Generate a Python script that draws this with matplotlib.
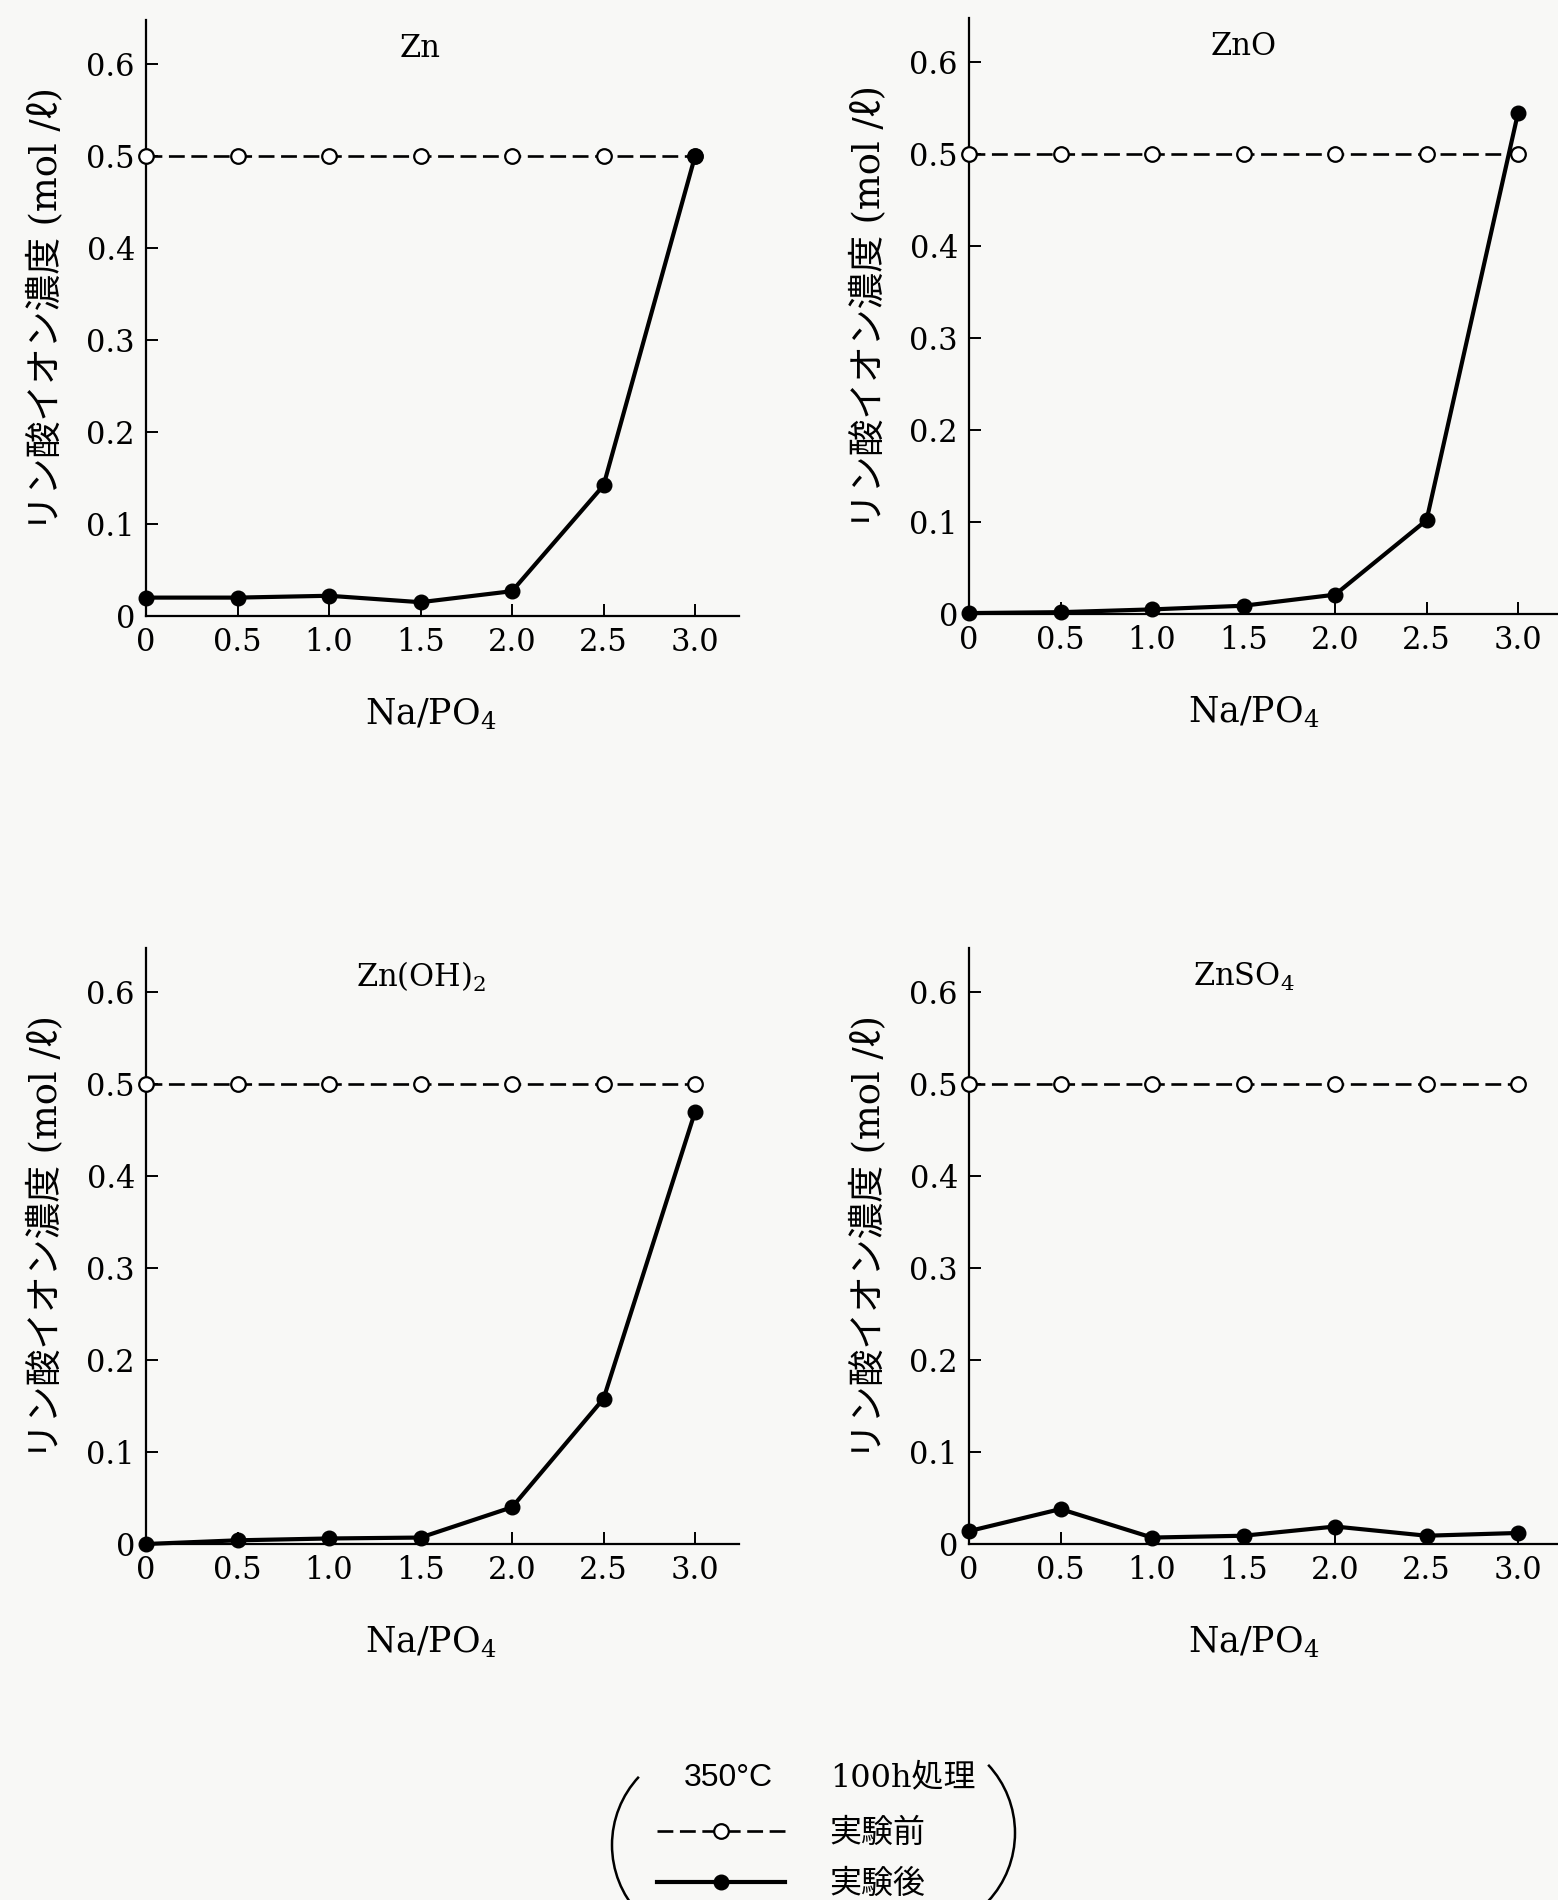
import numpy as np
import matplotlib
matplotlib.use('Agg')
import matplotlib.pyplot as plt
from matplotlib.patches import Arc

plt.rcParams['mathtext.fontset'] = 'dejavuserif'

# Na/PO4 ratio
x_ratio = [0, 0.5, 1.0, 1.5, 2.0, 2.5, 3.0]
x_ticklabels = ['0', '0.5', '1.0', '1.5', '2.0', '2.5', '3.0']
y_ticks = [0, 0.1, 0.2, 0.3, 0.4, 0.5, 0.6]
y_ticklabels = ['0', '0.1', '0.2', '0.3', '0.4', '0.5', '0.6']

# phosphate ion concentration (mol/l), before / after 350C 100h
zn_before = [0.5, 0.5, 0.5, 0.5, 0.5, 0.5, 0.5]
zn_after = [0.020, 0.020, 0.022, 0.015, 0.027, 0.142, 0.500]

zno_before = [0.5, 0.5, 0.5, 0.5, 0.5, 0.5, 0.5]
zno_after = [0.001, 0.002, 0.005, 0.009, 0.021, 0.102, 0.545]

znoh2_before = [0.5, 0.5, 0.5, 0.5, 0.5, 0.5, 0.5]
znoh2_after = [0.000, 0.004, 0.006, 0.007, 0.040, 0.158, 0.470]

znso4_before = [0.5, 0.5, 0.5, 0.5, 0.5, 0.5, 0.5]
znso4_after = [0.014, 0.038, 0.007, 0.009, 0.019, 0.009, 0.012]

names = ['Zn', 'ZnO', 'Zn(OH)$_2$', 'ZnSO$_4$']

W, H = 1558, 1900
bg = '#f8f8f6'
fig = plt.figure(figsize=(W/100, H/100), dpi=100, facecolor=bg)

serif = ['DejaVu Serif', 'Noto Sans CJK JP']
ylab = 'リン酸イオン濃度 (mol /ℓ)'

# axes placement in pixels: left, x-axis line height from top
pos = [(146, 616), (969, 614), (146, 1544), (969, 1544)]
ax_w, ax_h = 593, 596

def panel(px, py, before, after, name):
    ax = fig.add_axes([px/W, (H-py)/H, ax_w/W, ax_h/H])
    ax.set_facecolor(bg)
    hb, = ax.plot(x_ratio, before, color='black', lw=1.9, ls=(0, (6, 2.5)),
                  marker='o', ms=10.5, mfc='white', mec='black', mew=1.6,
                  clip_on=False, zorder=3)
    ha, = ax.plot(x_ratio, after, color='black', lw=3, marker='o', ms=10.5,
                  mfc='black', mec='black', clip_on=False, zorder=4)
    ax.set_xlim(0, 3.24)
    ax.set_ylim(0, 0.648)
    for s in ['top', 'right']:
        ax.spines[s].set_visible(False)
    for s in ['left', 'bottom']:
        ax.spines[s].set_linewidth(1.6)
    ax.set_xticks(x_ratio)
    ax.set_xticklabels(x_ticklabels, family='DejaVu Serif', fontsize=22)
    ax.set_yticks(y_ticks)
    ax.set_yticklabels(y_ticklabels, family='DejaVu Serif', fontsize=22)
    ax.tick_params(direction='in', length=8.5, width=1.4, pad=8)
    ax.tick_params(axis='x', pad=8)
    ax.set_xlabel('Na/PO$_4$', family='DejaVu Serif', fontsize=25)
    ax.xaxis.set_label_coords(0.48, -0.135)
    ax.set_ylabel(ylab, family=serif, fontsize=26.5)
    ax.yaxis.set_label_coords(-0.138, 0.515)
    ax.text(1.5, 0.617, name, family='DejaVu Serif', fontsize=22,
            ha='center', va='center')
    return hb, ha

hb, ha = panel(*pos[0], zn_before, zn_after, names[0])
panel(*pos[1], zno_before, zno_after, names[1])
panel(*pos[2], znoh2_before, znoh2_after, names[2])
panel(*pos[3], znso4_before, znso4_after, names[3])

# legend block with header and brackets
fig.text(728/W, 1-1778/H, '350°C', family='Liberation Sans', fontsize=23,
         ha='center', va='center')
fig.text(830/W, 1-1778/H, '100h処理', family=serif, fontsize=23,
         ha='left', va='center')
fig.legend(handles=[hb, ha], labels=['実験前', '実験後'], loc='upper left',
           bbox_to_anchor=(657/W, 1-1818/H), frameon=False, borderpad=0,
           borderaxespad=0, handlelength=4.0, handletextpad=1.4,
           labelspacing=0.62, numpoints=1,
           prop={'family': serif, 'size': 23})

r = 1.0
fig.add_artist(Arc((7.12, (H-1845)/100), 2*r, 2*r, theta1=137, theta2=223,
                   transform=fig.dpi_scale_trans, lw=1.8, color='black'))
fig.add_artist(Arc((9.15, (H-1833)/100), 2*r, 2*r, theta1=-43, theta2=43,
                   transform=fig.dpi_scale_trans, lw=1.8, color='black'))

fig.savefig('out.png', dpi=100, facecolor=bg)
